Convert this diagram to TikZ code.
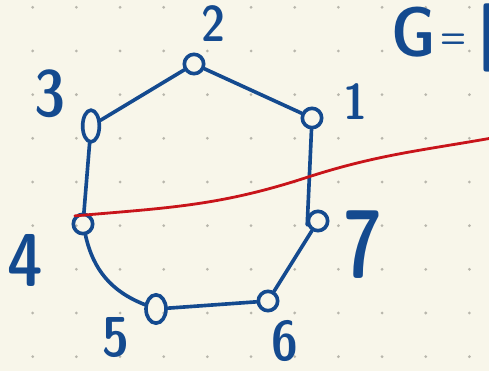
\documentclass[tikz,border=0pt]{standalone}
\usepackage{tikz}
\usetikzlibrary{calc, shapes.geometric}
\definecolor{ink}{HTML}{144A8F}
\definecolor{redink}{HTML}{C8141A}
\definecolor{paper}{HTML}{F8F6EA}
\definecolor{dotgray}{HTML}{B8B6AC}
\newcommand{\fsz}[1]{\sffamily\fontseries{sbc}\fontsize{#1}{#1}\selectfont}
\begin{document}
\begin{tikzpicture}[x=0.03cm, y=-0.03cm,
	vertex/.style={circle, draw=ink, line width=3.1pt, minimum size=0.58cm, inner sep=0pt},
	lbl/.style={text=ink, inner sep=0pt, font=\fsz{43}},
	every path/.style={line cap=round}]
			\fill[paper] (0,0) rectangle (489,371);
			\useasboundingbox (0,0) rectangle (489,371);
			\foreach \i in {0,...,10}
				\foreach \j in {0,...,8}
					\fill[dotgray] ({32.7+43.67*\i},{7.3+43.67*\j}) circle (1.3pt);
			\node[vertex] (v1) at (312,118) {};
			\node[vertex] (v2) at (194,64) {};
			\node[vertex, ellipse, minimum height=0.95cm, minimum width=0.5cm] (v3) at (91,126) {};
			\node[vertex] (v4) at (83,224) {};
			\node[vertex, ellipse, minimum height=0.85cm, minimum width=0.6cm] (v5) at (156,309) {};
			\node[vertex] (v6) at (268,301) {};
			\node[vertex] (v7) at (318,221) {};
			\node[lbl] (l1) at (355,102) {1};
			\node[lbl] (l2) at (213,24) {2};
			\node[lbl, font=\fsz{56}] (l3) at (50,94) {3};
			\node[lbl, font=\fsz{64}] (l4) at (25,260) {4};
			\node[lbl, font=\fsz{48}] (l5) at (116,338) {5};
			\node[lbl, font=\fsz{48}] (l6) at (285,341) {6};
			\node[lbl, font=\fsz{82}] (l7) at (363,245) {\scalebox{0.85}[1]{7}};
			\node[lbl, font=\fsz{60}, anchor=base west] (gname) at (391,57)
				{G\hspace{4pt}\raisebox{7pt}{\fontsize{30}{30}\selectfont=}\hspace{10pt}[};
			\draw[ink, line width=3.1pt] (v1) -- (v2) -- (v3) -- (v4);
			\draw[ink, line width=3.1pt, bend right=28] (v4) to (v5);
			\draw[ink, line width=3.1pt] (v5) -- (v6) -- (v7);
			\draw[ink, line width=3.1pt] (v1) -- (v7.200);
			% cut through the cycle
			\coordinate (mid) at (305,178);
			\coordinate (redend) at (492,138);
			\draw[redink, line width=2.4pt] (v4.135) to[out=5, in=198] (mid) to[out=18, in=190] (redend);
		\end{tikzpicture}
\end{document}
